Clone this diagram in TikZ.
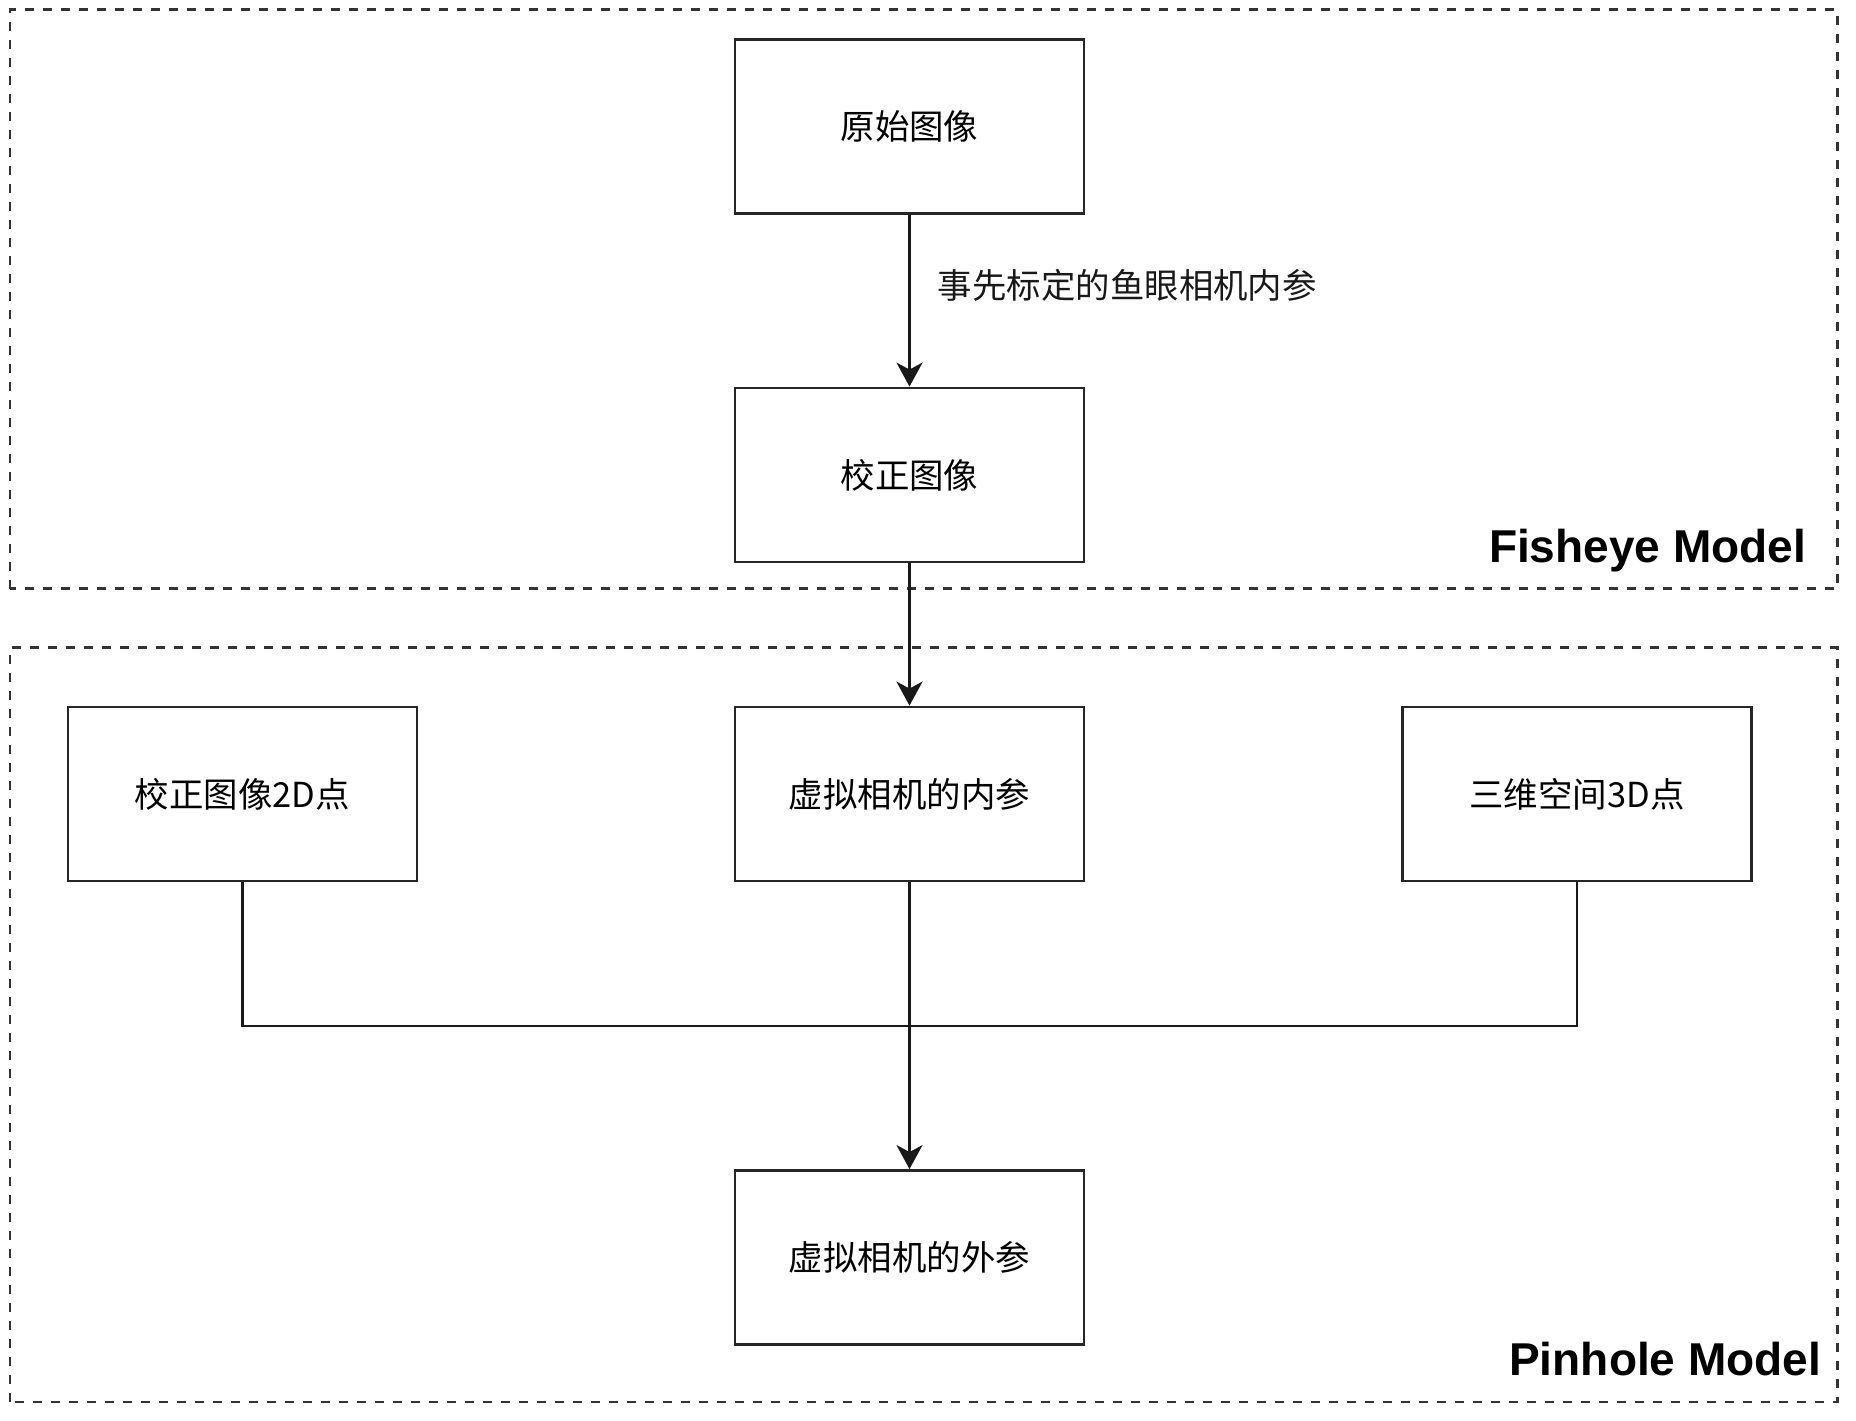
\documentclass[tikz,border=0pt]{standalone}
\usepackage{fontspec}
\setmainfont{Liberation Sans}
\newfontfamily\cjk{Noto Sans CJK SC}
\usepackage{xcolor}
\usepackage{tikz}
\usetikzlibrary{arrows.meta,positioning,calc}

\begin{document}
\begin{tikzpicture}[
  box/.style={rectangle, draw=black!85, line width=0.8pt, minimum width=3.49cm, minimum height=1.74cm, font=\cjk\fontsize{9.8pt}{12pt}\selectfont, align=center, inner sep=0pt},
  arrow/.style={-{Stealth[length=0.24cm, width=0.26cm, inset=0.07cm]}, line width=0.8pt, black!90},
  link/.style={line width=0.8pt, black!90},
  group/.style={draw=black!80, line width=0.85pt, dash pattern=on 0.09cm off 0.09cm},
  title/.style={font=\bfseries\fontsize{13.1pt}{16pt}\selectfont, anchor=base east, inner sep=0pt},
  lbl/.style={font=\cjk\fontsize{9.8pt}{12pt}\selectfont, anchor=west, inner sep=0pt}
]
\useasboundingbox (0,0) rectangle (18.56,14.2);

% Groups
\draw[group] (0.10,8.31) rectangle (18.37,14.10);
\draw[group] (0.10,0.18) rectangle (18.37,7.72);
\node[title] (fisheye) at (18.07,8.57) {Fisheye Model};
\node[title] (pinhole) at (18.22,0.45) {Pinhole Model};

% Fisheye model
\node[box] (orig) at (9.095,12.935) {原始图像};
\node[box] (rect) at (9.095,9.45) {校正图像};

% Pinhole model
\node[box] (pts2d) at (2.425,6.26) {校正图像2D点};
\node[box] (intr) at (9.095,6.26) {虚拟相机的内参};
\node[box] (pts3d) at (15.77,6.26) {三维空间3D点};
\node[box] (extr) at (9.095,1.625) {虚拟相机的外参};
\coordinate (join) at (9.095,3.94);

% Arrows
\draw[arrow] (orig) -- node[lbl, pos=0.41, xshift=0.27cm] (calib) {事先标定的鱼眼相机内参} (rect);
\draw[arrow] (rect) -- (intr);
\draw[link] (pts2d) |- (join);
\draw[link] (pts3d) |- (join);
\draw[arrow] (intr) -- (extr);

\end{tikzpicture}
\end{document}
